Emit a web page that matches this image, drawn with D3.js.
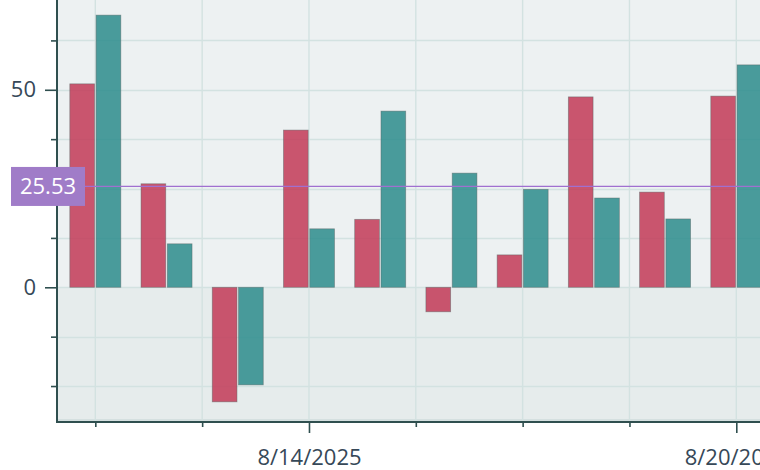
<!DOCTYPE html>
<html>
<head>
<meta charset="utf-8">
<script src="https://cdn.jsdelivr.net/npm/d3@7"></script>
<style>
  html, body { margin: 0; padding: 0; background: #ffffff; }
  svg { display: block; font-family: "Open Sans", "Noto Sans", sans-serif; }
</style>
</head>
<body>
<svg id="chart" width="760" height="470"></svg>
<script>
// ---- data ----
const dates = ["2025-08-11","2025-08-12","2025-08-13","2025-08-14","2025-08-15",
               "2025-08-16","2025-08-17","2025-08-18","2025-08-19","2025-08-20"];
const seriesNames = ["A", "B"];
const seriesA = [51.5, 26.2, -29.0, 39.8, 17.2, -6.2, 8.2, 48.2, 24.1, 48.4];
const seriesB = [68.9, 11.0, -24.7, 14.8, 44.6, 28.9, 24.8, 22.6, 17.3, 56.3];
const refValue = 25.53;
const yMajorTicks = [0, 50];
const yMinorTicks = [-25, -12.5, 12.5, 25, 37.5, 62.5];
const xMajorTicks = ["2025-08-14", "2025-08-20"];
const xMinorTicks = ["2025-08-11T00:00", "2025-08-12T12:00", "2025-08-15T12:00",
                     "2025-08-17T00:00", "2025-08-18T12:00"];

// ---- layout ----
const W = 760, H = 470;
const plotLeft = 57, plotTop = 0, plotBottom = 421;
const parse = s => new Date(s.length > 10 ? s : s + "T00:00");
const colors = { A: "#c23a57", B: "#2b8c8c" };

const svg = d3.select("#chart");

const dayMs = 86400000;
const d0 = parse(dates[0]);
const x = d3.scaleTime()
  .domain([new Date(+d0 - 0.538 * dayMs), new Date(+parse(dates[dates.length - 1]) + 1.5 * dayMs)])
  .range([plotLeft, plotLeft + (9 + 0.538 + 1.5) * 71.22]);

const y = d3.scaleLinear()
  .domain([-33.85, 72.73])
  .range([plotBottom, plotTop]);

const sub = d3.scaleBand().domain(seriesNames).range([-25.5, 25.5]).paddingInner(0.06);

const defs = svg.append("defs");
defs.append("clipPath").attr("id", "plotclip")
  .append("rect").attr("x", plotLeft).attr("y", plotTop)
  .attr("width", W - plotLeft).attr("height", plotBottom - plotTop);

const plot = svg.append("g").attr("clip-path", "url(#plotclip)");

// backgrounds
plot.append("rect").attr("x", plotLeft).attr("y", plotTop)
  .attr("width", W - plotLeft).attr("height", y(0) - plotTop)
  .attr("fill", "#edf1f2");
plot.append("rect").attr("x", plotLeft).attr("y", y(0))
  .attr("width", W - plotLeft).attr("height", plotBottom - y(0))
  .attr("fill", "#e6ecec");
plot.append("rect").attr("x", plotLeft).attr("y", plotBottom - 2)
  .attr("width", W - plotLeft).attr("height", 2)
  .attr("fill", "#d5e0e0");

// grid lines
const gridColor = "#d3e2e1";
const allY = yMajorTicks.concat(yMinorTicks);
plot.selectAll("line.hgrid").data(allY).join("line")
  .attr("class", "hgrid")
  .attr("x1", plotLeft).attr("x2", W)
  .attr("y1", d => Math.round(y(d)) + 0.5).attr("y2", d => Math.round(y(d)) + 0.5)
  .attr("stroke", gridColor).attr("stroke-width", 1.6);
const allX = xMajorTicks.concat(xMinorTicks).map(parse);
plot.selectAll("line.vgrid").data(allX).join("line")
  .attr("class", "vgrid")
  .attr("y1", plotTop).attr("y2", plotBottom)
  .attr("x1", d => x(d)).attr("x2", d => x(d))
  .attr("stroke", gridColor).attr("stroke-width", 1.4);

// bars
const rows = dates.map((d, i) => ({ date: parse(d), A: seriesA[i], B: seriesB[i] }));
const groups = plot.selectAll("g.grp").data(rows).join("g")
  .attr("class", "grp")
  .attr("transform", d => `translate(${x(d.date)},0)`);
groups.selectAll("rect").data(d => seriesNames.map(k => ({ key: k, v: d[k] }))).join("rect")
  .attr("x", d => sub(d.key))
  .attr("width", sub.bandwidth())
  .attr("y", d => y(Math.max(0, d.v)))
  .attr("height", d => Math.abs(y(d.v) - y(0)))
  .attr("fill", d => colors[d.key])
  .attr("fill-opacity", 0.85)
  .attr("stroke", "rgba(90,100,100,0.55)")
  .attr("stroke-width", 0.8);

// reference line
plot.append("line")
  .attr("x1", plotLeft).attr("x2", W)
  .attr("y1", y(refValue)).attr("y2", y(refValue))
  .attr("stroke", "#a070d0").attr("stroke-width", 1.3);

// axes
const axisColor = "#2f4f4f";
const tickTextColor = "#364858";

const yMinor = svg.append("g").attr("transform", `translate(${plotLeft},0)`)
  .call(d3.axisLeft(y).tickValues(yMinorTicks).tickSize(6).tickFormat(""));
const yMajor = svg.append("g").attr("transform", `translate(${plotLeft},0)`)
  .call(d3.axisLeft(y).tickValues(yMajorTicks).tickSize(12).tickPadding(9).tickFormat(d3.format("d")));

const xMinor = svg.append("g").attr("transform", `translate(0,${plotBottom + 1})`)
  .call(d3.axisBottom(x).tickValues(xMinorTicks.map(parse)).tickSize(5).tickFormat(""));
const xMajor = svg.append("g").attr("transform", `translate(0,${plotBottom + 1})`)
  .call(d3.axisBottom(x).tickValues(xMajorTicks.map(parse)).tickSize(11).tickPadding(16)
        .tickFormat(d3.timeFormat("%-m/%-d/%Y")));

[yMinor, yMajor, xMinor, xMajor].forEach(g => {
  g.select(".domain").remove();
  g.selectAll(".tick line").attr("stroke", axisColor).attr("stroke-width", 1.6);
  g.selectAll(".tick text").attr("fill", tickTextColor)
    .style("font-size", "22px").style("font-family", "'Open Sans', 'Noto Sans', sans-serif");
});

// axis lines
svg.append("line").attr("x1", plotLeft).attr("x2", plotLeft)
  .attr("y1", 0).attr("y2", plotBottom + 2)
  .attr("stroke", axisColor).attr("stroke-width", 2);
svg.append("line").attr("x1", plotLeft - 1).attr("x2", W)
  .attr("y1", plotBottom + 1).attr("y2", plotBottom + 1)
  .attr("stroke", axisColor).attr("stroke-width", 2);

// reference label
const lbl = svg.append("g").attr("transform", `translate(48,${y(refValue)})`);
lbl.append("rect").attr("x", -37).attr("y", -19.5).attr("width", 74).attr("height", 39)
  .attr("fill", "#a07cc8");
lbl.append("text").attr("x", 0).attr("y", 0).attr("dy", "0.35em")
  .attr("text-anchor", "middle").attr("fill", "#ffffff")
  .style("font-size", "22px")
  .text(d3.format(".2f")(refValue));
</script>
</body>
</html>
